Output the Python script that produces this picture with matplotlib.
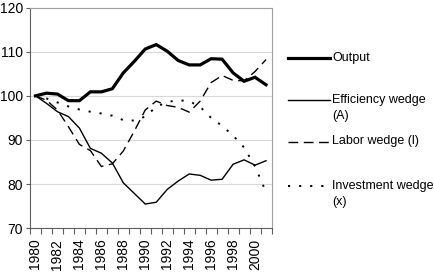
import matplotlib
matplotlib.use("Agg")
import matplotlib.pyplot as plt
from matplotlib.lines import Line2D

plt.rcParams['font.family'] = ['Liberation Sans', 'DejaVu Sans']

years = list(range(1980, 2002))
output = [100, 100.6, 100.4, 98.9, 98.9, 100.9, 100.9, 101.6, 105.2, 107.8, 110.6,
          111.6, 110.1, 108.0, 107.0, 107.0, 108.4, 108.3, 105.2, 103.3, 104.2, 102.5]
efficiency = [100, 98.3, 96.4, 95.3, 92.7, 88.1, 87.0, 84.8, 80.3, 77.9, 75.5,
              75.9, 78.8, 80.7, 82.3, 82.0, 80.9, 81.1, 84.5, 85.5, 84.3, 85.3]
labor = [100, 99.0, 96.8, 93.0, 89.0, 87.6, 84.0, 84.6, 87.5, 92.0, 96.8,
         98.8, 97.8, 97.4, 96.3, 98.8, 103.0, 104.6, 103.5, 103.4, 105.5, 108.2]
investment = [100, 99.4, 98.5, 97.6, 96.9, 96.4, 96.0, 95.5, 94.5, 94.4, 95.3,
              97.5, 98.6, 99.0, 98.8, 97.5, 95.0, 93.2, 91.0, 88.3, 84.0, 78.2]

labels = ["Output", "Efficiency wedge\n(A)", "Labor wedge (l)", "Investment wedge\n(x)"]
series = [output, efficiency, labor, investment]
styles = [dict(lw=2.3, ls='-'),
          dict(lw=1.0, ls='-'),
          dict(lw=1.0, dashes=(7, 4)),
          dict(lw=1.4, dashes=(1.1, 4.6))]

W, H = 435, 275
fig = plt.figure(figsize=(W / 100, H / 100), dpi=100)
ax = fig.add_axes([30 / W, 1 - 228.3 / H, (271.5 - 30) / W, (228.3 - 7.5) / H])

x = list(range(len(years)))
for s, st in zip(series, styles):
    ax.plot(x, s, color='black', solid_joinstyle='miter', **st)

ax.set_xlim(-0.5, len(years) - 0.5)
ax.set_ylim(70, 120)
ax.set_yticks(range(70, 121, 10))
ax.yaxis.grid(True, color='#d9d9d9', lw=0.8)
ax.set_axisbelow(True)

ax.set_xticks([i - 0.5 for i in range(len(years) + 1)], minor=True)
ax.set_xticks(x[::2])
ax.set_xticklabels([str(y) for y in years[::2]], rotation=90, fontsize=10)
ax.tick_params(axis='x', which='major', length=0, pad=7.5)
ax.tick_params(axis='x', which='minor', length=4, color='#606060', width=0.8)
ax.tick_params(axis='y', length=3, color='#606060', width=0.8, labelsize=10, pad=2)

for side in ['top', 'right']:
    ax.spines[side].set_color('#a0a0a0')
    ax.spines[side].set_linewidth(0.8)
for side in ['left', 'bottom']:
    ax.spines[side].set_color('#606060')
    ax.spines[side].set_linewidth(0.8)

# legend drawn at right
leg_y = [58, 100, 141.5, 186]
for lab, st, yy in zip(labels, styles, leg_y):
    yf = 1 - yy / H
    fig.add_artist(Line2D([288 / W, 330 / W], [yf, yf], color='black',
                          transform=fig.transFigure, **st))
    fig.text(332 / W, 1 - (yy - 6.5) / H, lab, fontsize=9, va='top', ha='left',
             linespacing=1.45)

fig.savefig("out.png", dpi=100)
